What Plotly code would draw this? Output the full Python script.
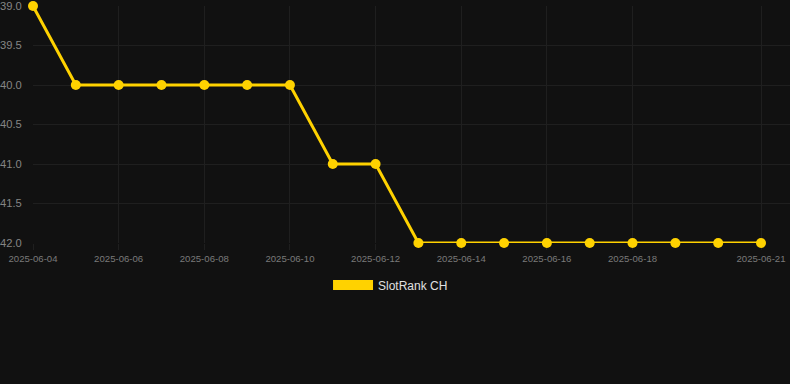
import plotly.graph_objects as go

dates = ["2025-06-04", "2025-06-05", "2025-06-06", "2025-06-07", "2025-06-08", "2025-06-09",
         "2025-06-10", "2025-06-11", "2025-06-12", "2025-06-13", "2025-06-14", "2025-06-15",
         "2025-06-16", "2025-06-17", "2025-06-18", "2025-06-19", "2025-06-20", "2025-06-21"]
ranks = [39, 40, 40, 40, 40, 40, 40, 41, 41, 42, 42, 42, 42, 42, 42, 42, 42, 42]
x_ticks = ["2025-06-04", "2025-06-06", "2025-06-08", "2025-06-10", "2025-06-12",
           "2025-06-14", "2025-06-16", "2025-06-18", "2025-06-21"]
y_ticks = [39.0, 39.5, 40.0, 40.5, 41.0, 41.5, 42.0]
series_name = "SlotRank CH"
gold = "#FFD200"

fig = go.Figure()
fig.add_trace(go.Scatter(x=dates, y=ranks, mode="lines+markers", name=series_name,
                         line=dict(color=gold, width=3), marker=dict(size=10, color=gold),
                         showlegend=False, cliponaxis=False))
fig.add_trace(go.Scatter(x=[None], y=[None], mode="lines", name=series_name,
                         line=dict(color=gold, width=11), showlegend=True))

grid = "#1f1f1f"
fig.update_layout(
    width=790, height=384,
    paper_bgcolor="#111111", plot_bgcolor="#111111",
    margin=dict(l=33, r=0, t=6, b=141),
    font=dict(family="Arial, Liberation Sans, sans-serif"),
    xaxis=dict(type="date", range=["2025-06-04", "2025-06-21 16:15"],
               tickvals=x_ticks, ticktext=x_ticks,
               tickfont=dict(size=9.6, color="#7a7a7a"),
               showgrid=True, gridcolor=grid, gridwidth=1,
               ticks="outside", ticklen=6, tickcolor=grid,
               zeroline=False, showline=False, layer="below traces",
               ticklabeloverflow="allow"),
    yaxis=dict(range=[42.0, 38.9995], tickvals=y_ticks,
               ticktext=[f"{v:.1f}" for v in y_ticks],
               tickfont=dict(size=11.2, color="#858585"),
               showgrid=True, gridcolor=grid, gridwidth=1,
               ticks="outside", ticklen=8, tickcolor="rgba(0,0,0,0)",
               zeroline=False, showline=False, layer="below traces",
               ticklabeloverflow="allow"),
    legend=dict(orientation="h", x=0.4723, xanchor="center", y=-0.116, yanchor="top",
                font=dict(size=12, color="#e0e0e0"), itemwidth=40,
                bgcolor="rgba(0,0,0,0)"),
)
fig.write_html("out.html")
